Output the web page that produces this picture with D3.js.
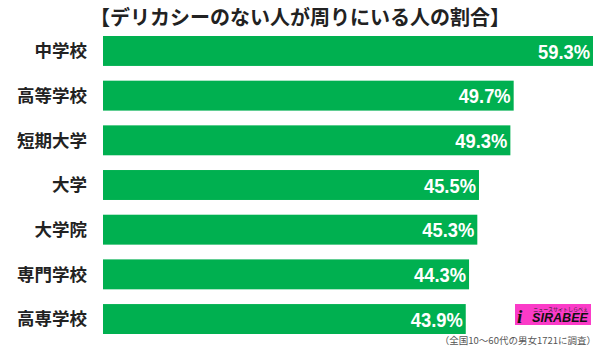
<!DOCTYPE html>
<html><head><meta charset="utf-8">
<script src="https://cdn.jsdelivr.net/npm/d3@7"></script>
<style>body{margin:0;background:#fff;}svg{display:block;}</style>
</head><body>
<script>
const categories = ["中学校","高等学校","短期大学","大学","大学院","専門学校","高専学校"];
const values = [59.3,49.7,49.3,45.5,45.3,44.3,43.9];
const valueLabels = ["59.3%","49.7%","49.3%","45.5%","45.3%","44.3%","43.9%"];
const title = "【デリカシーのない人が周りにいる人の割合】";
const footnote = "（全国10～60代の男女1721に調査）";

const W = 600, H = 353;
const svg = d3.select("body").append("svg").attr("width", W).attr("height", H);
const font = "'Noto Sans CJK JP', 'Noto Sans', sans-serif";

const x = d3.scaleLinear().domain([0, 59.3]).range([103, 593]);
const y = d3.scaleBand().domain(categories).range([36, 334]).paddingInner(0.33).paddingOuter(0);

svg.append("text").attr("x", 300).attr("y", 25).attr("text-anchor", "middle")
  .attr("font-family", font).attr("font-weight", 700).attr("font-size", 20).attr("fill", "#222")
  .attr("textLength", 420).attr("lengthAdjust", "spacingAndGlyphs")
  .text(title);

svg.selectAll("rect.bar").data(values).join("rect").attr("class","bar")
  .attr("x", x(0)).attr("y", (d,i) => y(categories[i]))
  .attr("width", d => x(d) - x(0)).attr("height", y.bandwidth())
  .attr("fill", "#00b050");

svg.selectAll("text.cat").data(categories).join("text").attr("class","cat")
  .attr("x", 87).attr("y", d => y(d) + y.bandwidth()/2).attr("dy", "0.36em")
  .attr("text-anchor", "end").attr("font-family", font).attr("font-weight", 700)
  .attr("font-size", 17.5).attr("fill", "#222").text(d => d);

svg.selectAll("text.val").data(values).join("text").attr("class","val")
  .attr("x", d => x(d) - 3).attr("y", (d,i) => y(categories[i]) + y.bandwidth()/2).attr("dy", "0.36em")
  .attr("text-anchor", "end").attr("font-family", "'Liberation Sans', Arial, sans-serif").attr("font-weight", 700)
  .attr("font-size", 21).attr("fill", "#fff")
  .attr("textLength", 52).attr("lengthAdjust", "spacingAndGlyphs")
  .text((d,i) => valueLabels[i]);

// logo
const lg = svg.append("g");
lg.append("rect").attr("x", 515).attr("y", 304).attr("width", 76).attr("height", 21).attr("fill", "#fb3bc8");
lg.append("text").attr("x", 588).attr("y", 311).attr("text-anchor","end").attr("font-family", font)
  .attr("font-size", 5).attr("fill", "#222").text("ニュースサイトしらべぇ");
lg.append("text").attr("x", 532).attr("y", 322).attr("font-family", "'Liberation Sans', Arial, sans-serif")
  .attr("font-weight", 700).attr("font-style","italic").attr("font-size", 12).attr("fill", "#111")
  .attr("textLength", 56).attr("lengthAdjust", "spacingAndGlyphs").text("SIRABEE");
lg.append("text").attr("x", 517).attr("y", 323).attr("font-family", "'Liberation Serif', serif")
  .attr("font-weight", 700).attr("font-style","italic").attr("font-size", 19).attr("fill", "#111").text("i");

svg.append("text").attr("x", 596).attr("y", 344).attr("text-anchor","end")
  .attr("font-family", font).attr("font-size", 9.5).attr("fill", "#555").text(footnote);
</script>
</body></html>
